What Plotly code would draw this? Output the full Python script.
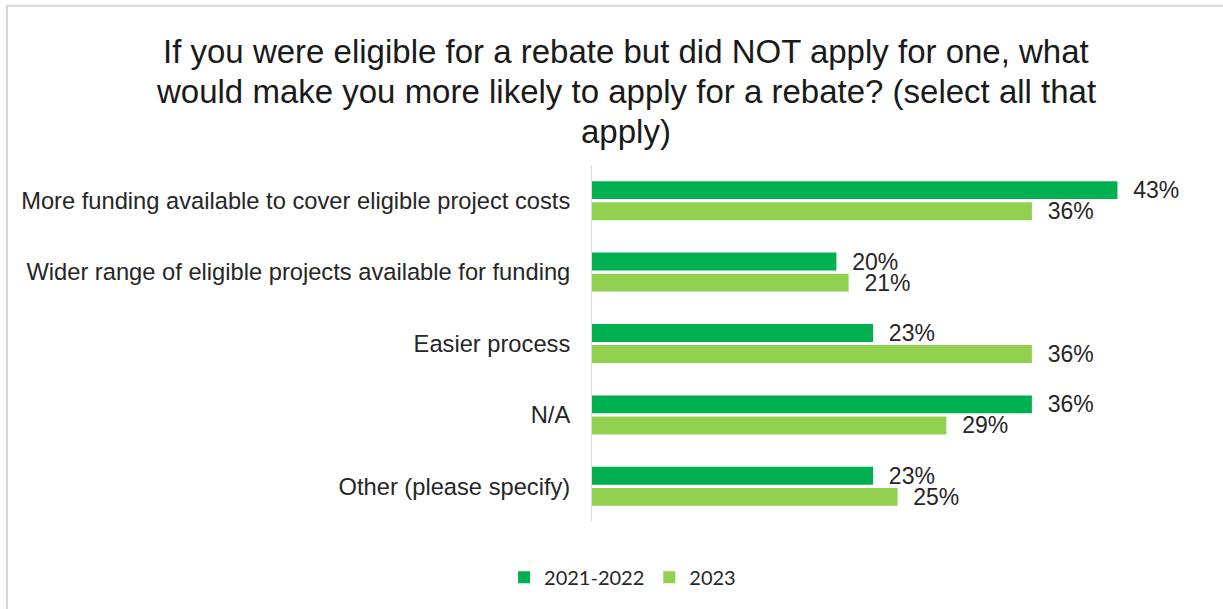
import plotly.graph_objects as go

categories = [
    "More funding available to cover eligible project costs",
    "Wider range of eligible projects available for funding",
    "Easier process",
    "N/A",
    "Other (please specify)",
]
series_names = ["2021-2022", "2023"]
values_2021_2022 = [43, 20, 23, 36, 23]
values_2023 = [36, 21, 36, 29, 25]
colors = ["#00B050", "#92D050"]

title_lines = [
    "If you were eligible for a rebate but did NOT apply for one, what",
    "would make you more likely to apply for a rebate? (select all that",
    "apply)",
]

fig = go.Figure()
for name, vals, col in zip(series_names, [values_2021_2022, values_2023], colors):
    fig.add_trace(go.Bar(
        y=categories, x=vals, name=name, orientation="h",
        marker=dict(color=col, line=dict(width=0)),
        text=[f"{v}%" for v in vals], texttemplate="  %{text}", textposition="outside",
        constraintext="none",
        textfont=dict(family="Liberation Sans, Arial", size=23, color="#262626"),
        cliponaxis=False,
    ))

W, H = 1223, 609
L, R, T, B = 592, 20, 165, 81
pw, ph = W - L - R, H - T - B

def px_to_paper(x, y):
    return (x - L) / pw, (H - B - y) / ph

x0, y0 = px_to_paper(7, 3)
x1, y1 = px_to_paper(1235, 620)

annotations = []
for line, yc in zip(title_lines, [50, 90, 131]):
    ax, ay = px_to_paper(626, yc)
    annotations.append(dict(text=line, x=ax, y=ay, xref="paper", yref="paper",
                            xanchor="center", yanchor="middle", showarrow=False,
                            font=dict(family="Liberation Sans, Arial", size=33, color="#1a1a1a")))

fig.update_layout(
    width=W, height=H,
    margin=dict(l=L, r=R, t=T, b=B),
    paper_bgcolor="white", plot_bgcolor="white",
    barmode="group", bargap=0.41, bargroupgap=0.15,
    annotations=annotations,
    xaxis=dict(range=[0, 50], showgrid=False, showticklabels=False, zeroline=False,
               showline=False, ticks=""),
    yaxis=dict(autorange="reversed", showgrid=False, showline=True, linecolor="#d9d9d9",
               linewidth=1, ticks="", ticklabelstandoff=16,
               tickfont=dict(family="Liberation Sans, Arial", size=23.7, color="#262626")),
    legend=dict(orientation="h", x=0.05, xanchor="center", y=-0.1, yanchor="top",
                font=dict(family="Lato, Carlito, sans-serif", size=20, color="#262626"),
                itemwidth=30, traceorder="normal"),
    showlegend=True,
    shapes=[dict(type="rect", xref="paper", yref="paper", x0=x0, y0=y0, x1=x1, y1=y1,
                 line=dict(color="#d9d9d9", width=2), fillcolor="rgba(0,0,0,0)", layer="below")],
)

fig.write_html("out.html")
